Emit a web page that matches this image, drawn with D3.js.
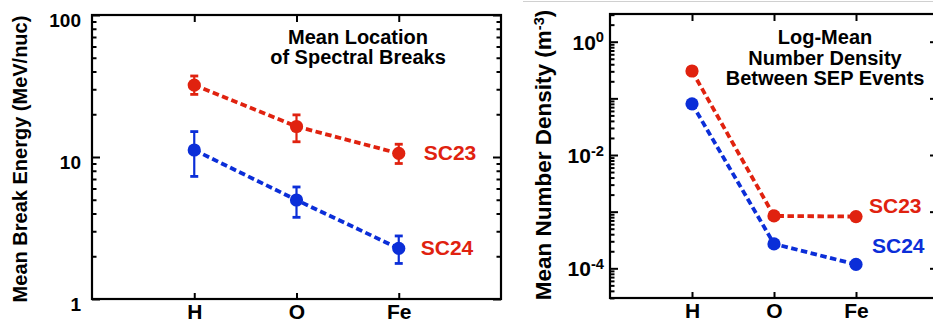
<!DOCTYPE html>
<html>
<head>
<meta charset="utf-8">
<script src="https://cdn.jsdelivr.net/npm/d3@7"></script>
<style>
  body { margin: 0; background: #fff; }
  svg { display: block; font-family: "Liberation Sans", Arial, Helvetica, sans-serif; font-weight: bold; }
</style>
</head>
<body>
<div id="chart"></div>
<script>
// species on the x axis
const elements = ['H', 'O', 'Fe'];

// left panel: mean break energy (MeV/nuc) with error bars
const breakSC23 = [32.1, 16.4, 10.6];
const breakSC23Lo = [27.6, 12.8, 9.0];
const breakSC23Hi = [37.2, 19.8, 12.3];
const breakSC24 = [11.2, 4.98, 2.27];
const breakSC24Lo = [7.3, 3.76, 1.78];
const breakSC24Hi = [15.1, 6.15, 2.78];

// right panel: log-mean number density (m^-3)
const densitySC23 = [0.304, 8.4e-4, 8.2e-4];
const densitySC24 = [0.080, 2.7e-4, 1.17e-4];

const red = '#e0220f';
const blue = '#0b2ed8';

const W = 933, H = 322;
const svg = d3.select('#chart').append('svg')
    .attr('width', W)
    .attr('height', H)
    .attr('viewBox', [0, 0, W, H]);

function minorTicks(domain) {
    const lo = Math.floor(Math.log10(domain[0])), hi = Math.ceil(Math.log10(domain[1]));
    const out = [];
    for (let e = lo; e <= hi; e++) {
        for (let m = 2; m <= 9; m++) {
            const v = m * Math.pow(10, e);
            if (v >= domain[0] && v <= domain[1]) out.push(v);
        }
    }
    return out;
}

function drawPanel(p) {
    const x = d3.scalePoint().domain(elements).range([p.left, p.right]).padding(1);
    const y = d3.scaleLog().domain(p.yDomain).range([p.bottom, p.top]);
    const g = svg.append('g');

    // minor + major ticks on both vertical sides
    const minors = minorTicks(p.yDomain);
    g.append('g').attr('transform', `translate(${p.left},0)`)
        .call(d3.axisLeft(y).tickValues(minors).tickSize(-4.5).tickFormat(''));
    g.append('g').attr('transform', `translate(${p.right},0)`)
        .call(d3.axisRight(y).tickValues(minors).tickSize(-4.5).tickFormat(''));
    g.append('g').attr('transform', `translate(${p.right},0)`)
        .call(d3.axisRight(y).tickValues(p.majors).tickSize(-8).tickFormat(''));
    const yl = g.append('g').attr('transform', `translate(${p.left},0)`)
        .call(d3.axisLeft(y).tickValues(p.majors).tickSize(-8).tickPadding(p.labelPad).tickFormat(''));
    yl.selectAll('.tick text').each(function (d) {
        const t = d3.select(this).attr('font-size', p.tickSize).attr('fill', '#000').attr('dy', p.labelDy);
        p.tickLabel(t, d);
    });

    // x ticks top and bottom
    g.append('g').attr('transform', `translate(0,${p.top})`)
        .call(d3.axisTop(x).tickSize(-7).tickFormat(''));
    g.append('g').attr('transform', `translate(0,${p.bottom})`)
        .call(d3.axisBottom(x).tickSize(-6).tickPadding(5))
        .selectAll('.tick text').attr('font-size', 21).attr('fill', '#000');

    g.selectAll('.domain').remove();
    g.selectAll('.tick line').attr('stroke', '#000').attr('stroke-width', 2);

    // frame
    g.append('rect')
        .attr('x', p.left).attr('y', p.top)
        .attr('width', p.right - p.left).attr('height', p.bottom - p.top)
        .attr('fill', 'none').attr('stroke', '#000').attr('stroke-width', 2.2);

    // y label
    const lab = g.append('text')
        .attr('transform', `translate(${p.yLabelX},${(p.top + p.bottom) / 2 + p.yLabelShift}) rotate(-90)`)
        .attr('text-anchor', 'middle')
        .attr('dy', '0.35em')
        .attr('font-size', p.yLabelSize)
        .text(p.yLabel);
    if (p.yLabelSup) {
        lab.append('tspan').attr('dy', '-0.5em').attr('font-size', '0.65em').text(p.yLabelSup);
        lab.append('tspan').attr('dy', '0.32em').text(')');
    }

    // title
    g.append('g').selectAll('text')
        .data(p.title)
        .join('text')
        .attr('x', p.titleX)
        .attr('y', (d, i) => p.titleY + i * p.titleStep)
        .attr('text-anchor', 'middle')
        .attr('font-size', 20)
        .text(d => d);

    // series
    p.series.forEach(s => {
        const pts = elements.map((e, i) => ({ e, v: s.values[i], lo: s.lo ? s.lo[i] : null, hi: s.hi ? s.hi[i] : null }));
        g.append('path')
            .datum(pts)
            .attr('fill', 'none')
            .attr('stroke', s.color)
            .attr('stroke-width', 3.8)
            .attr('stroke-dasharray', '6.5,3.5')
            .attr('d', d3.line().x(d => x(d.e)).y(d => y(d.v)));
        if (s.lo) {
            const eb = g.append('g').attr('stroke', s.color).attr('stroke-width', 2.2);
            eb.selectAll('.bar').data(pts).join('line')
                .attr('x1', d => x(d.e)).attr('x2', d => x(d.e))
                .attr('y1', d => y(d.lo)).attr('y2', d => y(d.hi));
            eb.selectAll('.caplo').data(pts).join('line')
                .attr('stroke-width', 2.8)
                .attr('x1', d => x(d.e) - 4).attr('x2', d => x(d.e) + 4)
                .attr('y1', d => y(d.lo)).attr('y2', d => y(d.lo));
            eb.selectAll('.caphi').data(pts).join('line')
                .attr('stroke-width', 2.8)
                .attr('x1', d => x(d.e) - 4).attr('x2', d => x(d.e) + 4)
                .attr('y1', d => y(d.hi)).attr('y2', d => y(d.hi));
        }
        g.append('g').selectAll('circle').data(pts).join('circle')
            .attr('cx', d => x(d.e)).attr('cy', d => y(d.v)).attr('r', 6.6)
            .attr('fill', s.color);
        g.append('text')
            .attr('x', x(elements[elements.length - 1]) + s.labelDx)
            .attr('y', y(s.values[s.values.length - 1]) + s.labelDy)
            .attr('dy', '0.35em')
            .attr('font-size', 21)
            .attr('fill', s.labelColor)
            .text(s.name);
    });
}

drawPanel({
    left: 92, right: 501, top: 15, bottom: 299,
    yDomain: [1, 100],
    majors: [1, 10, 100],
    tickSize: 19, labelPad: 11, labelDy: '0.6em',
    tickLabel: (t, d) => t.text(d3.format('d')(d)),
    yLabel: 'Mean Break Energy (MeV/nuc)', yLabelX: 20, yLabelShift: 2, yLabelSize: 20,
    title: ['Mean Location', 'of Spectral Breaks'], titleX: 358, titleY: 44, titleStep: 20,
    series: [
        { name: 'SC23', values: breakSC23, lo: breakSC23Lo, hi: breakSC23Hi, color: red, labelColor: red, labelDx: 25, labelDy: -1 },
        { name: 'SC24', values: breakSC24, lo: breakSC24Lo, hi: breakSC24Hi, color: blue, labelColor: red, labelDx: 22, labelDy: -1 }
    ]
});

// faint rule along the top of the right panel
svg.append('line')
    .attr('x1', 523).attr('x2', W).attr('y1', 1.5).attr('y2', 1.5)
    .attr('stroke', '#d0d0d0').attr('stroke-width', 1.2);

drawPanel({
    left: 610, right: 938, top: 14, bottom: 298,
    yDomain: [Math.pow(10, -4.524), Math.pow(10, 0.489)],
    majors: [1e-4, 1e-3, 1e-2, 1e-1, 1],
    tickSize: 21, labelPad: 6, labelDy: '0.36em',
    tickLabel: (t, d) => {
        const e = Math.round(Math.log10(d));
        if (e % 2 !== 0) return;
        t.append('tspan').text('10');
        t.append('tspan').attr('dy', '-0.5em').attr('font-size', '0.7em').text(String(e));
    },
    yLabel: 'Mean Number Density (m', yLabelSup: '-3', yLabelX: 543, yLabelShift: -1, yLabelSize: 22.5,
    title: ['Log-Mean', 'Number Density', 'Between SEP Events'], titleX: 825, titleY: 44, titleStep: 20.5,
    series: [
        { name: 'SC23', values: densitySC23, color: red, labelColor: red, labelDx: 13, labelDy: -11 },
        { name: 'SC24', values: densitySC24, color: blue, labelColor: blue, labelDx: 16, labelDy: -19 }
    ]
});
</script>
</body>
</html>
